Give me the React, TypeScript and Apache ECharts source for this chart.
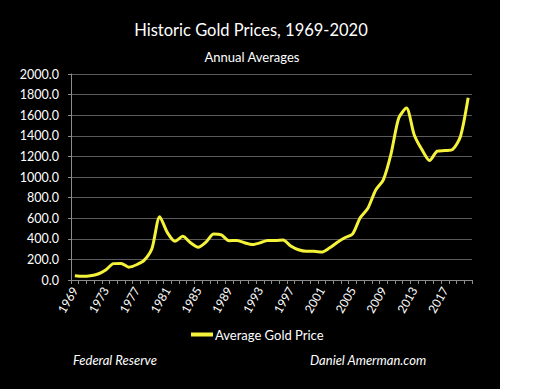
import React, { useEffect, useRef } from "react";
import * as echarts from "echarts";

const years: string[] = [];
for (let y = 1969; y <= 2020; y++) years.push(String(y));

const goldPrice = [
  41, 36, 41, 58, 97, 159, 161, 125, 148, 193,
  306, 615, 460, 376, 424, 361, 317, 368, 447, 437,
  381, 384, 362, 344, 360, 384, 384, 388, 331, 294,
  279, 279, 271, 310, 364, 410, 445, 604, 697, 872,
  972, 1225, 1572, 1669, 1411, 1266, 1160, 1251, 1257, 1268,
  1393, 1770,
];

const titleText = "Historic Gold Prices, 1969-2020";
const subtitleText = "Annual Averages";
const seriesName = "Average Gold Price";
const sourceLeft = "Federal Reserve";
const sourceRight = "Daniel Amerman.com";

const FONT = "Lato, 'Open Sans', sans-serif";

export default function App() {
  const ref = useRef<HTMLDivElement>(null);
  useEffect(() => {
    if (!ref.current) return;
    const chart = echarts.init(ref.current, undefined, { renderer: "svg" });
    chart.setOption({
      animation: false,
      backgroundColor: "#000000",
      textStyle: { fontFamily: FONT },
      title: [
        {
          text: titleText,
          left: 246,
          textAlign: "center",
          top: 16,
          textStyle: { color: "#ffffff", fontSize: 16.5, fontWeight: "normal", fontFamily: FONT },
        },
        {
          text: subtitleText,
          left: 247,
          textAlign: "center",
          top: 45,
          textStyle: { color: "#ffffff", fontSize: 13, fontWeight: "normal", fontFamily: FONT },
        },
      ],
      grid: { left: 71, right: 28, top: 74, bottom: 109, containLabel: false },
      legend: {
        data: [seriesName],
        left: 186,
        top: 323,
        icon: "rect",
        itemWidth: 22,
        itemHeight: 4,
        itemGap: 2,
        textStyle: { color: "#ffffff", fontSize: 13, fontFamily: FONT, padding: [0, 0, 0, -3] },
      },
      xAxis: {
        type: "category",
        data: years,
        boundaryGap: true,
        axisLine: { lineStyle: { color: "#8c8c8c", width: 1 } },
        axisTick: { show: true, interval: 0, length: 4, lineStyle: { color: "#8c8c8c" } },
        axisLabel: {
          interval: 3,
          rotate: 60,
          color: "#ffffff",
          fontSize: 12,
          fontFamily: FONT,
          margin: 8,
        },
        splitLine: { show: false },
      },
      yAxis: {
        type: "value",
        min: 0,
        max: 2000,
        interval: 200,
        axisLine: { show: true, lineStyle: { color: "#8c8c8c", width: 1 } },
        axisTick: { show: true, length: 3, lineStyle: { color: "#8c8c8c" } },
        axisLabel: {
          color: "#ffffff",
          fontSize: 12.5,
          fontFamily: FONT,
          margin: 12,
          formatter: (v: number) => v.toFixed(1),
        },
        splitLine: { show: true, lineStyle: { color: "#5a5a5a", width: 1 } },
      },
      series: [
        {
          name: seriesName,
          type: "line",
          data: goldPrice,
          smooth: 0.25,
          showSymbol: false,
          lineStyle: { color: "#f5f23a", width: 3 },
          itemStyle: { color: "#f5f23a" },
        },
      ],
      graphic: [
        {
          type: "text",
          left: 73,
          top: 353,
          style: {
            text: sourceLeft,
            fill: "#ffffff",
            font: `italic 13px ${FONT}`,
          },
        },
        {
          type: "text",
          left: 310,
          top: 353,
          style: {
            text: sourceRight,
            fill: "#ffffff",
            font: `italic 13px ${FONT}`,
          },
        },
      ],
    });
    return () => chart.dispose();
  }, []);
  return (
    <div
      style={{
        position: "fixed",
        left: 0,
        top: 0,
        width: 549,
        height: 389,
        background: "#ffffff",
      }}
    >
      <div ref={ref} style={{ width: 500, height: 389 }} />
    </div>
  );
}
